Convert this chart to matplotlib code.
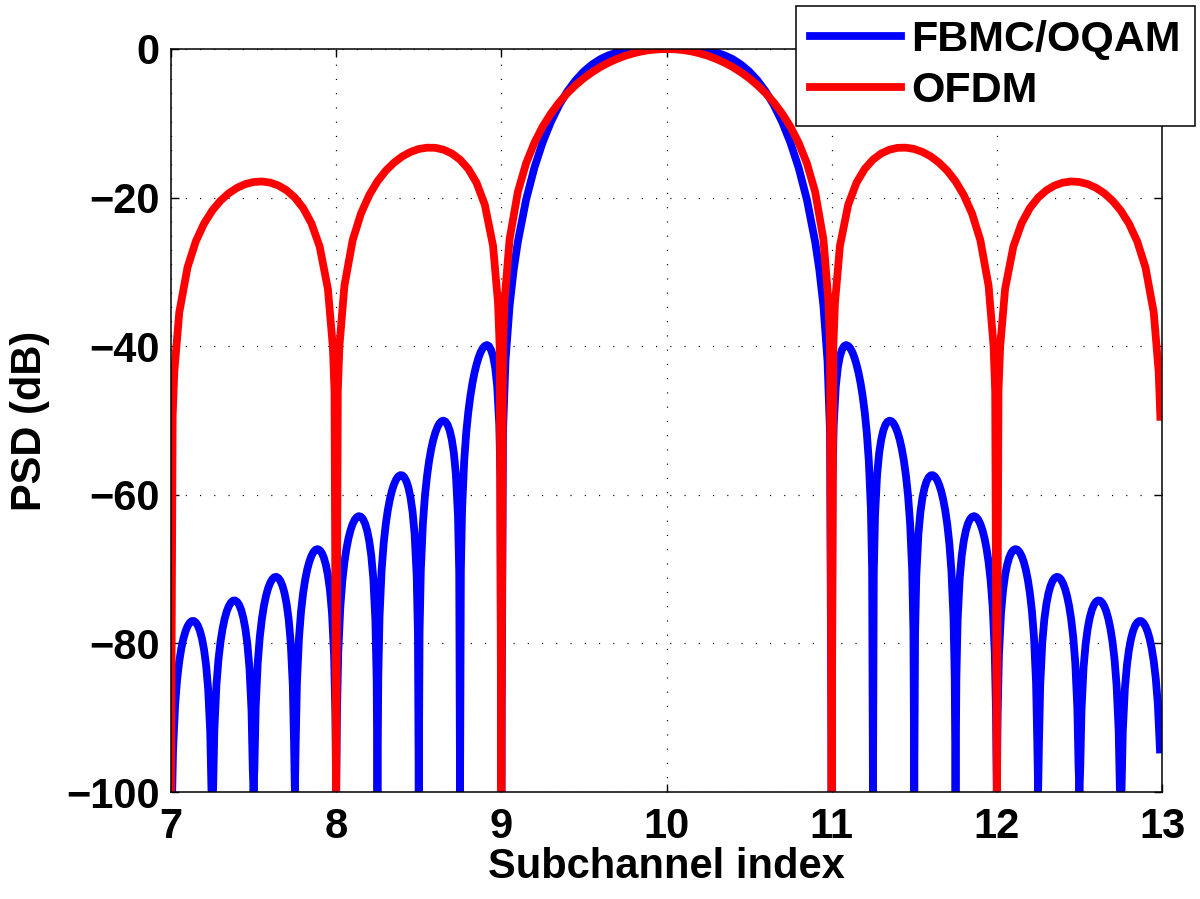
import matplotlib
matplotlib.use("Agg")
import matplotlib.pyplot as plt

# Readings from the reference figure. Both spectra are symmetric about
# subchannel 10, so they are read as a function of the distance from it.
CENTER = 10.0

# OFDM: distance from centre (subchannels) and PSD (dB)
OFDM_OFFSET = [
    0.0, 0.05, 0.1, 0.15, 0.2, 0.25, 0.3, 0.35, 0.4, 0.45, 0.5, 0.55, 0.6,
    0.65, 0.7, 0.75, 0.8, 0.85, 0.9, 0.95, 0.98, 0.99, 1.0,
    1.01, 1.02, 1.05, 1.1, 1.15, 1.2, 1.25, 1.3, 1.35, 1.4, 1.45, 1.5, 1.55,
    1.6, 1.65, 1.7, 1.75, 1.8, 1.85, 1.9, 1.95, 1.98, 1.99, 2.0,
    2.01, 2.02, 2.05, 2.1, 2.15, 2.2, 2.25, 2.3, 2.35, 2.4, 2.45, 2.5, 2.55,
    2.6, 2.65, 2.7, 2.75, 2.8, 2.85, 2.9, 2.95, 2.98, 2.99, 3.0,
]
OFDM_DB = [
    0.0, -0.04, -0.14, -0.32, -0.58, -0.91, -1.33, -1.83, -2.42, -3.12, -3.92,
    -4.86, -5.94, -7.20, -8.69, -10.45, -12.62, -15.39, -19.23, -25.61, -33.8,
    -39.9, -100,
    -40.1, -34.2, -26.5, -20.97, -18.01, -16.14, -14.89, -14.06, -13.55, -13.30,
    -13.28, -13.46, -13.86, -14.46, -15.30, -16.39, -17.81, -19.67, -22.15,
    -25.72, -31.86, -39.9, -45.98, -100,
    -46.07, -40.1, -32.3, -26.59, -23.45, -21.41, -20.00, -19.02, -18.37, -17.98,
    -17.83, -17.90, -18.18, -18.68, -19.41, -20.41, -21.74, -23.50, -25.90,
    -29.39, -35.45, -43.47, -49.5, -100,
]

# FBMC/OQAM main lobe
FBMC_MAIN_OFFSET = [
    0.0, 0.05, 0.1, 0.15, 0.2, 0.25, 0.3, 0.35, 0.4, 0.45, 0.5, 0.55, 0.6,
    0.65, 0.7, 0.75, 0.8, 0.85, 0.9, 0.925, 0.95, 0.975, 0.99, 1.0,
]
FBMC_MAIN_DB = [
    0.0, 0.0, -0.01, -0.04, -0.11, -0.25, -0.48, -0.84, -1.36, -2.08, -3.01,
    -4.21, -5.70, -7.55, -9.81, -12.57, -15.98, -20.27, -25.94, -29.67, -34.54,
    -42.03, -51.6, -100,
]

# FBMC/OQAM side lobes: 8 lobes, each a quarter subchannel wide, read at
# these fractions of the lobe width (from the null nearer the main lobe)
LOBE_WIDTH = 0.25
LOBE_FRAC = [0.02, 0.05, 0.1, 0.15, 0.2, 0.25, 0.3, 0.35, 0.4, 0.45, 0.5,
             0.55, 0.6, 0.65, 0.7, 0.75, 0.8, 0.85, 0.9, 0.95, 0.98]
FBMC_LOBE_DB = [
    [-57.96, -50.52, -45.42, -42.83, -41.34, -40.48, -39.99, -39.84, -39.96, -40.27, -40.79,
     -41.51, -42.44, -43.57, -44.97, -46.71, -48.85, -51.61, -55.48, -61.90, -70.13],
    [-70.50, -62.82, -57.32, -54.39, -52.56, -51.36, -50.60, -50.17, -50.02, -50.10, -50.40,
     -50.92, -51.66, -52.63, -53.88, -55.46, -57.48, -60.13, -63.88, -70.20, -78.38],
    [-78.66, -70.92, -65.31, -62.28, -60.34, -59.04, -58.17, -57.64, -57.38, -57.36, -57.55,
     -57.97, -58.60, -59.47, -60.61, -62.09, -64.00, -66.55, -70.19, -76.41, -84.52],
    [-84.74, -76.95, -71.28, -68.18, -66.18, -64.81, -63.88, -63.28, -62.96, -62.87, -63.00,
     -63.35, -63.92, -64.72, -65.80, -67.21, -69.06, -71.54, -75.12, -81.27, -89.34],
    [-89.52, -81.71, -76.00, -72.86, -70.82, -69.41, -68.44, -67.80, -67.44, -67.31, -67.40,
     -67.71, -68.24, -69.00, -70.04, -71.41, -73.22, -75.66, -79.20, -85.31, -93.36],
    [-93.51, -85.68, -79.94, -76.77, -74.70, -73.26, -72.26, -71.59, -71.20, -71.04, -71.10,
     -71.38, -71.88, -72.61, -73.62, -74.96, -76.74, -79.15, -82.66, -88.74, -96.77],
    [-96.90, -89.06, -83.29, -80.10, -78.00, -76.54, -75.51, -74.82, -74.40, -74.22, -74.25,
     -74.51, -74.98, -75.69, -76.67, -77.99, -79.74, -82.13, -85.61, -91.67, -99.68],
    [-99.79, -91.94, -86.16, -82.95, -80.84, -79.36, -78.32, -77.61, -77.18, -76.98, -77.00,
     -77.24, -77.70, -78.39, -79.36, -80.66, -82.40, -84.77, -88.24, -94.28, -102.29],
]
NULL_DB = -100

# the frequency sweep stops just short of subchannel 13 on the right
RIGHT_LIMIT = 2.99

LABELS = ["FBMC/OQAM", "OFDM"]
X_TICKS = [7, 8, 9, 10, 11, 12, 13]
Y_TICKS = [-100, -80, -60, -40, -20, 0]


def fbmc_half():
    off = list(FBMC_MAIN_OFFSET)
    db = list(FBMC_MAIN_DB)
    for k, row in enumerate(FBMC_LOBE_DB):
        for frac, val in zip(LOBE_FRAC, row):
            off.append(1.0 + LOBE_WIDTH * (k + frac))
            db.append(val)
        off.append(1.0 + LOBE_WIDTH * (k + 1))
        db.append(NULL_DB)
    return off, db


def full_sweep(off, db):
    """Mirror a one-sided reading into a sweep across subchannels 7..13."""
    left = [(CENTER - o, v) for o, v in zip(off, db)][::-1]
    right = [(CENTER + o, v) for o, v in zip(off, db) if 0 < o <= RIGHT_LIMIT]
    pts = left + right
    return [p[0] for p in pts], [p[1] for p in pts]


fbmc_x, fbmc_y = full_sweep(*fbmc_half())
ofdm_x, ofdm_y = full_sweep(OFDM_OFFSET, OFDM_DB)

plt.rcParams["font.family"] = ["Liberation Sans", "DejaVu Sans"]
plt.rcParams["font.weight"] = "bold"
plt.rcParams["font.size"] = 30

fig = plt.figure(figsize=(12, 8.99), dpi=100)
ax = fig.add_axes([171 / 1200, 1 - 792 / 899, 991 / 1200, 743 / 899])

ax.plot(fbmc_x, fbmc_y, color="#0000ff", lw=5.6, label=LABELS[0],
        solid_joinstyle="round")
ax.plot(ofdm_x, ofdm_y, color="#ff0000", lw=5.6, label=LABELS[1],
        solid_joinstyle="round")

ax.set_xlim(7, 13)
ax.set_ylim(-100, 0)
ax.set_xticks(X_TICKS)
ax.set_yticks(Y_TICKS)
ax.grid(True, color="black", lw=0.9, linestyle=(0, (0.9, 10.5)))
ax.tick_params(direction="in", length=6, width=1.0, top=True, right=True,
               labelsize=30)
ax.tick_params(axis="x", pad=11)
ax.tick_params(axis="y", pad=8)
for sp in ax.spines.values():
    sp.set_linewidth(1.1)

ax.set_xlabel("Subchannel index", fontsize=30, fontweight="bold", labelpad=0)
ax.set_ylabel("PSD (dB)", fontsize=30, fontweight="bold", labelpad=12)

leg = ax.legend(loc="upper right", bbox_to_anchor=(1.0333, 1.0579),
                borderaxespad=0, fancybox=False, framealpha=1,
                edgecolor="black", fontsize=31, handlelength=2.1,
                handletextpad=0.25, labelspacing=0.26, borderpad=0.33)
leg.get_frame().set_linewidth(1.1)
for line in leg.get_lines():
    line.set_linewidth(5.6)

fig.savefig("out.png", dpi=100)
